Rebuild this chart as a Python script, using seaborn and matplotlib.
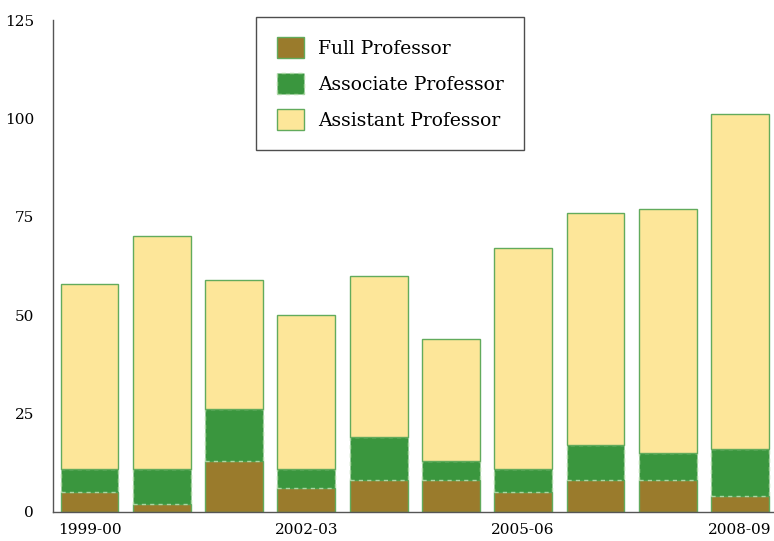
import matplotlib
matplotlib.use("Agg")
import matplotlib.pyplot as plt
import pandas as pd
import seaborn as sns

years = ["1999-00", "2000-01", "2001-02", "2002-03", "2003-04",
         "2004-05", "2005-06", "2006-07", "2007-08", "2008-09"]
full_prof = [5, 2, 13, 6, 8, 8, 5, 8, 8, 4]
assoc_prof = [6, 9, 13, 5, 11, 5, 6, 9, 7, 12]
asst_prof = [47, 59, 33, 39, 41, 31, 56, 59, 62, 85]
shown_ticks = ["1999-00", "2002-03", "2005-06", "2008-09"]

df = pd.DataFrame({"year": years, "full": full_prof, "assoc": assoc_prof, "asst": asst_prof})
df["assoc_bottom"] = df["full"]
df["asst_bottom"] = df["full"] + df["assoc"]

sns.set_style("white")
plt.rcParams["font.family"] = ["DejaVu Serif"]

fig = plt.figure(figsize=(7.74, 5.41), dpi=100)
ax = fig.add_axes([0.069, 0.054, 0.93, 0.909])

edge = "#62ab5c"
sns.barplot(data=df, x="year", y="full", color="#9a7b2c", saturation=1,
            edgecolor=edge, linewidth=1, width=0.8, ax=ax, label="Full Professor")
sns.barplot(data=df, x="year", y="assoc", bottom=df["assoc_bottom"], color="#3a963e",
            saturation=1, edgecolor="#a9d6a2", linewidth=1, linestyle=(0, (3, 3)),
            width=0.8, ax=ax, label="Associate Professor")
sns.barplot(data=df, x="year", y="asst", bottom=df["asst_bottom"], color="#fde699",
            saturation=1, edgecolor=edge, linewidth=1, width=0.8, ax=ax,
            label="Assistant Professor")

ax.set_ylim(0, 125)
ax.set_xlim(-0.5, 9.46)
ax.set_yticks([0, 25, 50, 75, 100, 125])
ax.set_xticks([years.index(t) for t in shown_ticks])
ax.set_xticklabels(shown_ticks)
ax.tick_params(axis="both", length=0, labelsize=11, colors="black")
ax.tick_params(axis="y", pad=14)
ax.tick_params(axis="x", pad=8)
ax.set_xlabel("")
ax.set_ylabel("")
sns.despine(ax=ax, top=True, right=True)
for s in ["left", "bottom"]:
    ax.spines[s].set_color("#555555")
    ax.spines[s].set_linewidth(1)

leg = ax.legend(loc="upper left", bbox_to_anchor=(0.331, 0.969),
                bbox_transform=fig.transFigure, fontsize=13.5, frameon=True,
                fancybox=False, edgecolor="#222222", handlelength=1.44,
                handleheight=1.33, handletextpad=0.75, borderpad=1.1,
                labelspacing=0.8, borderaxespad=0)
leg.get_frame().set_linewidth(1)
for t in leg.get_texts():
    t.set_color("black")

fig.savefig("out.png", dpi=100)
